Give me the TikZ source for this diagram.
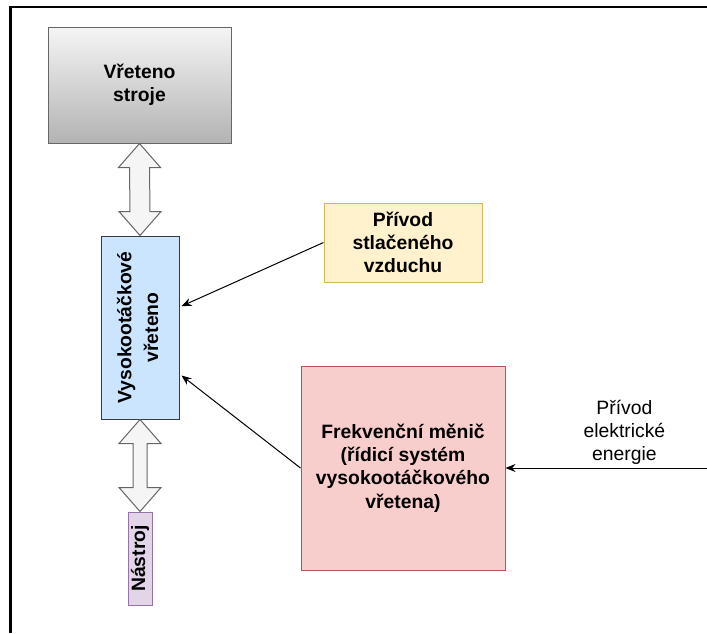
\documentclass[tikz,border=0pt]{standalone}
\usepackage{fontspec}
\setmainfont{Liberation Sans}
\usepackage{graphicx}
\usetikzlibrary{arrows.meta,calc}
\definecolor{grayTop}{HTML}{F5F5F5}
\definecolor{grayBot}{HTML}{B3B3B3}
\definecolor{grayLine}{HTML}{666666}
\definecolor{blueFill}{HTML}{CCE5FF}
\definecolor{blueLine}{HTML}{36393D}
\definecolor{yellowFill}{HTML}{FFF2CC}
\definecolor{yellowLine}{HTML}{D6B656}
\definecolor{redFill}{HTML}{F8CECC}
\definecolor{redLine}{HTML}{B85450}
\definecolor{purpleFill}{HTML}{E1D5E7}
\definecolor{purpleLine}{HTML}{9673A6}
\newcommand{\pxu}{0.75pt}
\tikzset{
	block/.style    = {draw, line width=0.75pt, rectangle, align=center, inner sep=0pt,
		font=\fontsize{14.5}{17.5}\selectfont\bfseries},
	machine/.style  = {block, draw=grayLine, top color=grayTop, bottom color=grayBot},
	spindle/.style  = {block, draw=blueLine, fill=blueFill},
	air/.style      = {block, draw=yellowLine, fill=yellowFill},
	drive/.style    = {block, draw=redLine, fill=redFill},
	tool/.style     = {block, draw=purpleLine, fill=purpleFill},
	dblarrow/.style = {draw=grayLine, fill=grayTop, line width=0.75pt, line join=miter},
	conn/.style     = {->, line width=0.75pt},
	lbl/.style      = {align=center, inner sep=0pt, font=\fontsize{14.5}{17.5}\selectfont}
}
% wide double arrow between two stacked blocks: #1 upper, #2 lower, #3 half shaft width
\newcommand{\bigarrow}[3]{%
	\draw[dblarrow] (#1.south) -- ($(#1.south)+(21,24)$) -- ($(#1.south)+(#3,24)$)
	-- ($(#2.north)+(#3,-24)$) -- ($(#2.north)+(21,-24)$) -- (#2.north)
	-- ($(#2.north)+(-21,-24)$) -- ($(#2.north)+(-#3,-24)$)
	-- ($(#1.south)+(-#3,24)$) -- ($(#1.south)+(-21,24)$) -- cycle;}

\begin{document}
\begin{tikzpicture}[x=\pxu, y=-\pxu, >={Stealth[length=7.5pt,width=6pt]}]
\useasboundingbox (0,0) rectangle (707,633);
% frame
\draw[line width=1.7pt] (10.5,633) -- (10.5,7) -- (707,7);

\draw
% blocks
node at (139.5,85) [machine, minimum width=183*\pxu, minimum height=116*\pxu] (stroj) {V\v{r}eteno\\stroje}
node at (140,327.5) [spindle, minimum width=78*\pxu, minimum height=183*\pxu] (hsv)
	{\rotatebox{90}{\begin{tabular}{@{}c@{}}Vysokoot\'a\v{c}kov\'e\\[2.5pt]v\v{r}eteno\end{tabular}}}
node at (140,558.5) [tool, minimum width=24*\pxu, minimum height=93*\pxu] (nastroj) {\rotatebox{90}{N\'astroj}}
node at (403,242.5) [air, minimum width=158*\pxu, minimum height=79*\pxu] (vzduch) {P\v{r}\'ivod\\stla\v{c}en\'eho\\vzduchu}
node at (403,468) [drive, minimum width=204*\pxu, minimum height=204*\pxu] (menic)
	{Frekven\v{c}n\'i m\v{e}ni\v{c}\\(\v{r}\'idic\'i syst\'em\\vysokoot\'a\v{c}kov\'eho\\v\v{r}etena)};
\coordinate (sit) at (707,468);

% big double arrows
\bigarrow{stroj}{hsv}{10}
\bigarrow{hsv}{nastroj}{7}

% connectors
\draw[conn] (vzduch.west) -- ([yshift=16pt,xshift=1.5pt]hsv.east);
\draw[conn] (menic.west) -- ([yshift=-36pt,xshift=1.5pt]hsv.east);
\draw[conn] (sit) -- node[pos=0.41, above=2pt, lbl] {P\v{r}\'ivod\\elektrick\'e\\energie} (menic.east);
\end{tikzpicture}
\end{document}
